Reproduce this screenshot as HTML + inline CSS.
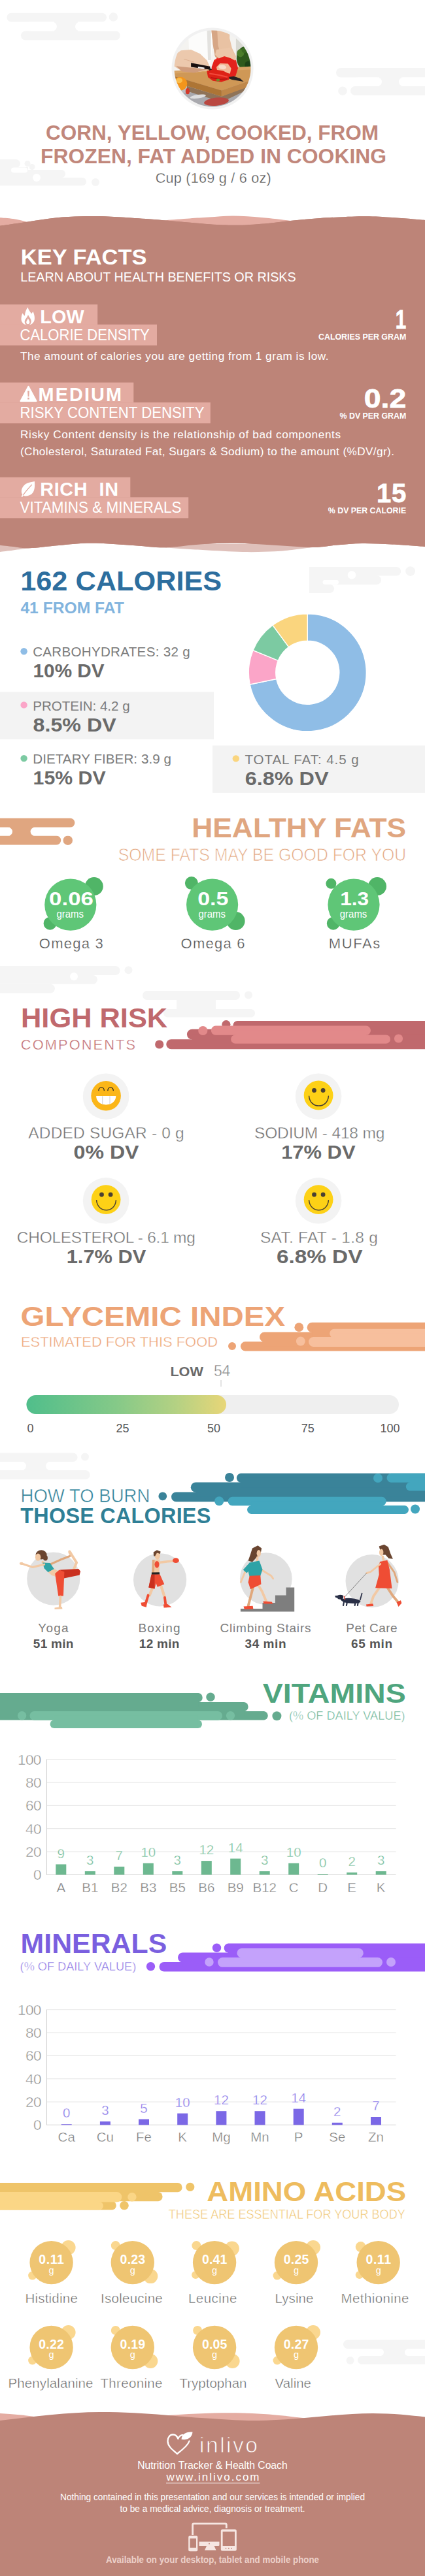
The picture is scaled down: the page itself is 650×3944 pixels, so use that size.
<!DOCTYPE html>
<html><head><meta charset="utf-8"><title>Corn, yellow, cooked, from frozen, fat added in cooking</title>
<style>
html,body{margin:0;padding:0;background:#fff;}
body{width:650px;height:3944px;overflow:hidden;}
svg{display:block;font-family:"Liberation Sans",sans-serif;}
text{font-family:"Liberation Sans",sans-serif;}
</style></head><body>
<svg width="650" height="3944" viewBox="0 0 650 3944">
<rect x="0" y="0" width="650" height="3944" fill="#ffffff"/>
<rect x="10.4" y="19.7" width="152.6" height="13.9" rx="7.0" fill="#f5f5f5"/>
<circle cx="173.4" cy="26.0" r="6.7" fill="#f5f5f5" />
<rect x="32.0" y="47.6" width="151.7" height="13.9" rx="6.9" fill="#f5f5f5"/>
<rect x="83.0" y="33.0" width="36.0" height="15.0" fill="#f5f5f5" />
<rect x="40.0" y="33.6" width="47.0" height="14.0" rx="7.0" fill="#ffffff"/>
<rect x="115.0" y="33.6" width="85.0" height="14.0" rx="7.0" fill="#ffffff"/>
<rect x="514.0" y="104.0" width="151.0" height="14.5" rx="7.2" fill="#f5f5f5"/>
<rect x="536.0" y="132.0" width="129.0" height="14.0" rx="7.0" fill="#f5f5f5"/>
<circle cx="524.0" cy="139.2" r="6.8" fill="#f5f5f5" />
<rect x="580.0" y="118.0" width="34.0" height="15.0" fill="#f5f5f5" />
<rect x="540.0" y="118.5" width="44.0" height="13.5" rx="6.8" fill="#ffffff"/>
<rect x="610.0" y="118.5" width="55.0" height="13.5" rx="6.8" fill="#ffffff"/>
<rect x="-10.0" y="244.0" width="41.0" height="13.0" rx="6.5" fill="#f5f5f5"/>
<circle cx="42.0" cy="250.5" r="4.5" fill="#f5f5f5" />
<circle cx="49.0" cy="255.5" r="4.5" fill="#f5f5f5" />
<rect x="-1.0" y="256.0" width="44.0" height="6.0" fill="#f5f5f5" />
<rect x="-10.0" y="260.0" width="110.0" height="12.3" rx="6.2" fill="#f5f5f5"/>
<rect x="-10.0" y="272.0" width="142.0" height="12.3" rx="6.2" fill="#f5f5f5"/>
<circle cx="146.0" cy="279.0" r="6.0" fill="#f5f5f5" />
<rect x="17.0" y="256.5" width="25.0" height="8.0" rx="4.0" fill="#ffffff"/>
<circle cx="56.0" cy="272.0" r="6.0" fill="#ffffff" />
<defs><clipPath id="pc"><circle cx="325" cy="105" r="58.5"/></clipPath></defs>
<circle cx="325.0" cy="105.0" r="62.5" fill="#f1f1f1" />
<g clip-path="url(#pc)"><defs><filter id="pb" x="-10%" y="-10%" width="120%" height="120%"><feGaussianBlur stdDeviation="0.75"/></filter></defs>
<g filter="url(#pb)">
<rect x="255" y="35" width="140" height="140" fill="#f4f3f0"/>
<polygon points="287.5,40.0 325.8,40.0 324.2,76.7 321.2,101.2 296.7,101.2 289.1,76.7" fill="#fcfcfb" />
<polygon points="316.6,46.1 322.7,46.1 322.7,92.0 318.1,92.0" fill="#e3e2df" />
<polygon points="360.9,58.4 391.5,58.4 391.5,110.4 360.9,110.4" fill="#d9d9d2" />
<ellipse cx="374.7" cy="88.9" rx="12.8" ry="17.7" fill="#2d5a1c"/>
<ellipse cx="367.7" cy="81.3" rx="5.5" ry="6.1" fill="#4c7d2c"/>
<ellipse cx="379.9" cy="99.6" rx="5.5" ry="6.1" fill="#1e4212"/>
<ellipse cx="373.8" cy="76.7" rx="4.3" ry="4.3" fill="#3b6b22"/>
<polygon points="260.0,116.5 391.5,110.4 391.5,171.5 260.0,171.5" fill="#bdbdc1" />
<polygon points="260.0,144.0 391.5,134.8 391.5,171.5 260.0,171.5" fill="#a9a9ae" />
<polygon points="286.0,131.8 338.9,147.7 382.4,128.7 382.4,135.4 338.9,156.2 286.0,139.4" fill="#8f7358" />
<ellipse cx="331.0" cy="155.6" rx="19.0" ry="6.1" fill="#b9473f" transform="rotate(-6 331.0 155.6)"/>
<ellipse cx="302.8" cy="147.7" rx="12.2" ry="2.8" fill="#dededf" transform="rotate(-8 302.8 147.7)"/>
<polygon points="261.5,108.5 391.5,101.2 391.5,120.1 338.9,138.5 261.5,115.2" fill="#d8a465" />
<polygon points="261.5,112.8 391.5,106.1 391.5,120.1 338.9,138.5 261.5,115.2" fill="#cf9857" />
<polygon points="261.5,115.2 338.9,138.5 338.9,147.7 261.5,124.4" fill="#ad7436" />
<polygon points="338.9,138.5 391.5,120.1 391.5,128.7 338.9,147.7" fill="#bf874a" />
<ellipse cx="275.9" cy="128.1" rx="10.4" ry="10.4" fill="#f3951a"/>
<ellipse cx="274.1" cy="123.2" rx="4.9" ry="4.0" fill="#f9bd4e"/>
<ellipse cx="286.9" cy="139.7" rx="3.1" ry="4.6" fill="#d4382a"/>
<polygon points="322.7,40.0 351.8,40.0 351.2,58.4 354.8,73.6 360.9,85.9 359.7,101.2 351.8,104.8 336.5,96.6 328.8,85.9 325.8,69.1" fill="#e9c2a3" />
<polygon points="322.7,40.0 331.9,40.0 333.4,69.1 338.0,85.9 342.0,97.5 336.5,96.6 328.8,85.9 325.8,69.1" fill="#d6a685" />
<polygon points="264.6,85.9 276.8,77.3 292.1,76.1 305.9,82.2 316.6,92.6 321.2,102.7 316.6,107.9 296.7,111.0 278.4,108.8 265.5,101.2" fill="#ecc9ad" />
<polygon points="269.2,101.2 290.6,103.6 318.1,106.1 296.7,111.6 278.4,109.4" fill="#cf9c7b" />
<polyline points="281.4,90.5 296.7,95.1" fill="none" stroke="#dcae8e" stroke-width="0.92" stroke-linecap="round" stroke-linejoin="round"/>
<polygon points="292.1,96.3 321.2,101.8 321.8,106.7 292.1,102.4" fill="#121010" />
<polygon points="320.0,104.2 367.1,120.1 372.6,125.0 354.8,122.0 320.0,109.1" fill="#262021" />
<polygon points="302.8,102.1 312.6,103.6 312.6,105.8 302.8,104.2" fill="#f6f6f6" />
<polygon points="323.6,102.7 327.3,92.6 337.1,85.9 351.8,85.9 360.9,92.6 364.0,104.2 360.3,116.5 351.2,117.7 327.9,111.0 324.2,108.5" fill="#e3241b" />
<polygon points="331.0,102.7 336.5,96.9 348.7,97.5 353.6,104.8 351.8,112.8 340.1,111.0 332.2,108.5" fill="#f1b896" />
<ellipse cx="340.1" cy="102.7" rx="6.1" ry="3.4" fill="#f8dcc8" transform="rotate(8 340.1 102.7)"/>
<polyline points="327.9,92.6 337.1,86.5 351.8,86.5 360.3,93.2" fill="none" stroke="#f0392c" stroke-width="1.53" stroke-linecap="round" stroke-linejoin="round"/>
<polygon points="331.0,76.1 351.8,73.0 359.7,85.3 359.1,92.6 352.4,88.9 343.2,85.9 334.6,89.6 329.1,83.4" fill="#ecc6a8" />
<polygon points="316.3,109.1 325.8,106.1 341.4,108.5 351.2,113.4 349.9,122.0 338.3,125.6 325.5,123.8 318.1,118.3" fill="#dd2019" />
<polyline points="321.2,112.8 333.4,114.6 347.2,117.7" fill="none" stroke="#f2483a" stroke-width="2.14" stroke-linecap="round" stroke-linejoin="round"/>
<polyline points="322.7,118.9 336.5,121.4 347.2,120.8" fill="none" stroke="#a8140f" stroke-width="1.22" stroke-linecap="round" stroke-linejoin="round"/>
<ellipse cx="333.4" cy="122.6" rx="2.8" ry="2.1" fill="#76892c"/>
</g></g>
<text x="70.0" y="214.2" font-size="30.8" font-weight="bold" fill="#c1877b" textLength="509.0" lengthAdjust="spacingAndGlyphs" >CORN, YELLOW, COOKED, FROM</text>
<text x="62.0" y="250.0" font-size="30.8" font-weight="bold" fill="#c1877b" textLength="529.0" lengthAdjust="spacingAndGlyphs" >FROZEN, FAT ADDED IN COOKING</text>
<text x="237.7" y="280.0" font-size="21.6" font-weight="normal" fill="#555555" stroke="#ffffff" stroke-width="0.35" style="paint-order:fill stroke" textLength="177.0" lengthAdjust="spacing" >Cup (169 g / 6 oz)</text>
<path d="M0.0,333.2 C3.3,333.5 12.8,333.9 20.0,335.0 C27.2,336.1 36.3,338.3 43.0,340.0 C49.7,341.7 57.2,344.2 60.0,345.0 L60,360 L0,360 Z" fill="#e4aca2"/>
<path d="M240.0,341.0 C242.0,340.4 243.7,338.6 252.0,337.5 C260.3,336.4 278.7,335.3 290.0,334.5 C301.3,333.7 308.8,333.2 320.0,332.6 C331.2,332.0 343.7,330.5 357.0,330.6 C370.3,330.7 385.5,331.8 400.0,333.0 C414.5,334.2 432.3,336.3 444.0,338.0 C455.7,339.7 465.7,342.2 470.0,343.0 L470,360 L240,360 Z" fill="#e4aca2"/>
<path d="M0.0,345.8 C7.2,344.8 28.8,341.6 43.0,339.5 C57.2,337.4 71.5,334.9 85.0,333.5 C98.5,332.1 111.5,331.7 124.0,331.3 C136.5,330.9 147.3,330.9 160.0,331.3 C172.7,331.7 185.0,332.6 200.0,333.6 C215.0,334.6 230.0,335.6 250.0,337.2 C270.0,338.8 300.8,342.0 320.0,343.3 C339.2,344.6 350.0,345.0 365.0,344.8 C380.0,344.6 396.8,343.1 410.0,342.0 C423.2,340.9 430.7,339.3 444.0,338.0 C457.3,336.7 471.7,335.1 490.0,334.0 C508.3,332.9 535.7,331.4 554.0,331.2 C572.3,331.0 584.0,332.0 600.0,333.0 C616.0,334.0 641.7,336.3 650.0,337.0 L650.0,837.0 C641.7,836.4 616.0,834.3 600.0,833.5 C584.0,832.7 568.2,831.8 554.0,832.0 C539.8,832.2 527.7,833.5 515.0,834.5 C502.3,835.5 493.8,838.0 478.0,838.0 C462.2,838.0 440.5,835.8 420.0,834.7 C399.5,833.6 375.0,831.7 355.0,831.6 C335.0,831.5 317.2,832.9 300.0,834.0 C282.8,835.1 268.7,838.2 252.0,838.3 C235.3,838.4 218.7,835.8 200.0,834.7 C181.3,833.6 158.3,831.6 140.0,831.6 C121.7,831.6 106.0,833.7 90.0,835.0 C74.0,836.3 55.7,839.0 44.0,839.3 C32.3,839.6 27.3,837.8 20.0,837.0 C12.7,836.2 3.3,835.1 0.0,834.7 Z" fill="#bd8478"/>
<path d="M0,833 L50,833 L50,839 L44.0,839.3 C40.0,839.8 27.3,841.5 20.0,842.5 C12.7,843.5 3.3,844.6 0.0,845.0 Z" fill="#dfc0ba"/>
<path d="M245,833 L485,833 L478.0,838.0 C473.3,838.6 459.7,840.5 450.0,841.5 C440.3,842.5 433.2,843.7 420.0,844.3 C406.8,844.9 389.3,845.4 371.0,845.0 C352.7,844.6 329.8,843.1 310.0,842.0 C290.2,840.9 261.7,838.9 252.0,838.3 Z" fill="#dfc0ba"/>
<path d="M0.0,345.8 C7.2,344.8 28.8,341.6 43.0,339.5 C57.2,337.4 71.5,334.9 85.0,333.5 C98.5,332.1 111.5,331.7 124.0,331.3 C136.5,330.9 147.3,330.9 160.0,331.3 C172.7,331.7 185.0,332.6 200.0,333.6 C215.0,334.6 230.0,335.6 250.0,337.2 C270.0,338.8 300.8,342.0 320.0,343.3 C339.2,344.6 350.0,345.0 365.0,344.8 C380.0,344.6 396.8,343.1 410.0,342.0 C423.2,340.9 430.7,339.3 444.0,338.0 C457.3,336.7 471.7,335.1 490.0,334.0 C508.3,332.9 535.7,331.4 554.0,331.2 C572.3,331.0 584.0,332.0 600.0,333.0 C616.0,334.0 641.7,336.3 650.0,337.0 L650.0,837.0 C641.7,836.4 616.0,834.3 600.0,833.5 C584.0,832.7 568.2,831.8 554.0,832.0 C539.8,832.2 527.7,833.5 515.0,834.5 C502.3,835.5 493.8,838.0 478.0,838.0 C462.2,838.0 440.5,835.8 420.0,834.7 C399.5,833.6 375.0,831.7 355.0,831.6 C335.0,831.5 317.2,832.9 300.0,834.0 C282.8,835.1 268.7,838.2 252.0,838.3 C235.3,838.4 218.7,835.8 200.0,834.7 C181.3,833.6 158.3,831.6 140.0,831.6 C121.7,831.6 106.0,833.7 90.0,835.0 C74.0,836.3 55.7,839.0 44.0,839.3 C32.3,839.6 27.3,837.8 20.0,837.0 C12.7,836.2 3.3,835.1 0.0,834.7 Z" fill="#bd8478"/>
<text x="31.8" y="405.3" font-size="33" font-weight="bold" fill="#ffffff" textLength="192.7" lengthAdjust="spacingAndGlyphs" >KEY FACTS</text>
<text x="31.2" y="430.6" font-size="19.8" font-weight="normal" fill="#ffffff" textLength="421.5" lengthAdjust="spacing" >LEARN ABOUT HEALTH BENEFITS OR RISKS</text>
<rect x="0.0" y="466.2" width="149.2" height="31.0" fill="#e3aba1" />
<rect x="0.0" y="496.8" width="240.0" height="32.0" fill="#e3aba1" />
<text x="61.2" y="494.6" font-size="28.8" font-weight="bold" fill="#ffffff" textLength="67.5" lengthAdjust="spacing" >LOW</text>
<text x="30.5" y="520.8" font-size="23.4" font-weight="normal" fill="#ffffff" textLength="198.3" lengthAdjust="spacingAndGlyphs" >CALORIE DENSITY</text>
<rect x="0.0" y="585.6" width="204.3" height="31.0" fill="#e3aba1" />
<rect x="0.0" y="616.2" width="321.8" height="32.0" fill="#e3aba1" />
<text x="58.6" y="614.0" font-size="28.8" font-weight="bold" fill="#ffffff" textLength="127.4" lengthAdjust="spacing" >MEDIUM</text>
<text x="30.5" y="640.2" font-size="23.4" font-weight="normal" fill="#ffffff" textLength="282.0" lengthAdjust="spacingAndGlyphs" >RISKY CONTENT DENSITY</text>
<rect x="0.0" y="730.7" width="199.3" height="31.0" fill="#e3aba1" />
<rect x="0.0" y="761.3" width="288.2" height="32.0" fill="#e3aba1" />
<text x="61.2" y="759.1" font-size="28.8" font-weight="bold" fill="#ffffff" textLength="119.8" lengthAdjust="spacing" >RICH  IN</text>
<text x="30.5" y="785.3" font-size="23.4" font-weight="normal" fill="#ffffff" textLength="247.0" lengthAdjust="spacingAndGlyphs" >VITAMINS &amp; MINERALS</text>
<g transform="translate(32.5,470.5)"><path d="M9.9,0 C11,4 14,7 15.5,10 C16.5,8.5 17.5,7.5 18.1,6.6 C19.5,10 20.8,14 20.4,18 C20,23.5 15.5,27.3 10,27.3 C4.5,27.3 0,23.5 0,18 C0,14 1,11 2,8.9 C3,10.5 4,12 5.5,13 C5.5,8 7.5,3.5 9.9,0 Z" fill="#fff"/><path d="M10.5,11.5 C12,15 15.2,17.5 15.2,21.5 C15.2,24.8 12.8,27.6 10,27.6 C7.2,27.6 5.2,25 5.2,22 C5.2,18.5 9,16 10.5,11.5 Z" fill="#e3aba1"/><path d="M10.3,16.8 C11,19 12.8,20.5 12.8,22.8 C12.8,24.6 11.6,25.8 10.2,25.8 C8.9,25.8 7.7,24.6 7.7,23 C7.7,20.8 9.8,19.5 10.3,16.8 Z" fill="#fff"/></g>
<path d="M43.5,592 L55.3,614 L31.7,614 Z" fill="#fff" stroke="#fff" stroke-width="2.4" stroke-linejoin="round"/>
<path d="M42.1,598.5 H44.9 L44.4,607.3 H42.6 Z M42.2,608.8 H44.8 V611.6 H42.2 Z" fill="#e3aba1"/>
<g transform="translate(32.6,737) scale(1.12)"><path d="M18.1,0 C18.6,6 18.5,11 15.8,15.5 C13,19.5 7,21 2.6,19.4 L1.2,21.6 L0,20.6 L1.5,18 C-1,14 0,8 5.9,3.5 C9.5,1.2 14,1.2 18.1,0 Z" fill="#fff"/><path d="M2.2,19 C6,14 10,9 14.5,4.5" stroke="#e3aba1" stroke-width="1.1" fill="none"/></g>
<text x="31.0" y="551.2" font-size="17.2" font-weight="normal" fill="#ffffff" textLength="471.5" lengthAdjust="spacing" >The amount of calories you are getting from 1 gram is low.</text>
<text x="31.0" y="671.0" font-size="17.2" font-weight="normal" fill="#ffffff" textLength="490.0" lengthAdjust="spacing" >Risky Content density is the relationship of bad components</text>
<text x="31.0" y="697.0" font-size="17.2" font-weight="normal" fill="#ffffff" textLength="572.0" lengthAdjust="spacing" >(Cholesterol, Saturated Fat, Sugars &amp; Sodium) to the amount (%DV/gr).</text>
<text x="604.7" y="503.1" font-size="40" font-weight="bold" fill="#ffffff" stroke="#ffffff" stroke-width="0.8" style="paint-order:fill stroke" textLength="16.5" lengthAdjust="spacingAndGlyphs" >1</text>
<text x="487.0" y="520.2" font-size="13.5" font-weight="bold" fill="#ffffff" textLength="134.2" lengthAdjust="spacingAndGlyphs" >CALORIES PER GRAM</text>
<text x="556.8" y="624.0" font-size="40" font-weight="bold" fill="#ffffff" stroke="#ffffff" stroke-width="0.8" style="paint-order:fill stroke" textLength="64.4" lengthAdjust="spacingAndGlyphs" >0.2</text>
<text x="519.6" y="641.2" font-size="13.5" font-weight="bold" fill="#ffffff" textLength="101.6" lengthAdjust="spacingAndGlyphs" >% DV PER GRAM</text>
<text x="575.9" y="769.0" font-size="40" font-weight="bold" fill="#ffffff" stroke="#ffffff" stroke-width="0.8" style="paint-order:fill stroke" textLength="45.3" lengthAdjust="spacing" >15</text>
<text x="501.8" y="786.2" font-size="13.5" font-weight="bold" fill="#ffffff" textLength="119.4" lengthAdjust="spacingAndGlyphs" >% DV PER CALORIE</text>
<path d="M473.0,868.0H607.2A6.8,6.8 0 0 1 607.2,881.5H473.0Z" fill="#f5f5f5"/>
<circle cx="627.6" cy="874.6" r="7.4" fill="#f5f5f5" />
<path d="M473.0,881.0H576.0A7.0,7.0 0 0 1 576.0,895.0H473.0Z" fill="#f5f5f5"/>
<path d="M473.0,894.7H504.4A6.6,6.6 0 0 1 504.4,908.0H473.0Z" fill="#f5f5f5"/>
<circle cx="538.0" cy="880.4" r="6.3" fill="#ffffff" />
<circle cx="526.0" cy="903.6" r="6.5" fill="#ffffff" />
<rect x="493.5" y="888.0" width="24.5" height="6.7" rx="3.4" fill="#ffffff"/>
<text x="31.2" y="904.3" font-size="42.2" font-weight="bold" fill="#2d6e9e" textLength="308.0" lengthAdjust="spacingAndGlyphs" >162 CALORIES</text>
<text x="31.4" y="939.2" font-size="23.3" font-weight="bold" fill="#82b4de" textLength="158.4" lengthAdjust="spacingAndGlyphs" >41 FROM FAT</text>
<rect x="0.0" y="1059.3" width="327.0" height="72.5" fill="#f3f3f3" />
<rect x="325.0" y="1141.4" width="325.0" height="72.5" fill="#f3f3f3" />
<circle cx="36.6" cy="997.2" r="5.2" fill="#8fbde6" />
<text x="50.2" y="1005.4" font-size="20.6" font-weight="normal" fill="#7c7c7c" textLength="240.4" lengthAdjust="spacing" >CARBOHYDRATES: 32 g</text>
<text x="50.6" y="1037.3" font-size="30" font-weight="bold" fill="#6a6a6a" textLength="109.0" lengthAdjust="spacingAndGlyphs" >10% DV</text>
<circle cx="36.6" cy="1079.4" r="5.2" fill="#fba5c8" />
<text x="50.2" y="1087.6" font-size="20.6" font-weight="normal" fill="#7c7c7c" textLength="148.4" lengthAdjust="spacing" >PROTEIN: 4.2 g</text>
<text x="50.6" y="1119.5" font-size="30" font-weight="bold" fill="#6a6a6a" textLength="127.0" lengthAdjust="spacingAndGlyphs" >8.5% DV</text>
<circle cx="36.6" cy="1161.1" r="5.2" fill="#7ccaa2" />
<text x="50.2" y="1169.3" font-size="20.6" font-weight="normal" fill="#7c7c7c" textLength="211.8" lengthAdjust="spacing" >DIETARY FIBER: 3.9 g</text>
<text x="50.6" y="1201.2" font-size="30" font-weight="bold" fill="#6a6a6a" textLength="111.0" lengthAdjust="spacingAndGlyphs" >15% DV</text>
<circle cx="360.8" cy="1161.4" r="5.2" fill="#fad57e" />
<text x="374.4" y="1169.6" font-size="20.6" font-weight="normal" fill="#7c7c7c" textLength="174.2" lengthAdjust="spacing" >TOTAL FAT: 4.5 g</text>
<text x="374.8" y="1201.5" font-size="30" font-weight="bold" fill="#6a6a6a" textLength="127.8" lengthAdjust="spacingAndGlyphs" >6.8% DV</text>
<path d="M470.30,939.70 A90,90 0 1 1 382.17,1047.96 L422.81,1039.54 A48.5,48.5 0 1 0 470.30,981.20 Z" fill="#8fbde6" stroke="#fff" stroke-width="1.4"/>
<path d="M382.17,1047.96 A90,90 0 0 1 386.97,995.70 L425.39,1011.38 A48.5,48.5 0 0 0 422.81,1039.54 Z" fill="#fba5c8" stroke="#fff" stroke-width="1.4"/>
<path d="M386.97,995.70 A90,90 0 0 1 416.99,957.19 L441.57,990.62 A48.5,48.5 0 0 0 425.39,1011.38 Z" fill="#7ccaa2" stroke="#fff" stroke-width="1.4"/>
<path d="M416.99,957.19 A90,90 0 0 1 470.30,939.70 L470.30,981.20 A48.5,48.5 0 0 0 441.57,990.62 Z" fill="#fad57e" stroke="#fff" stroke-width="1.4"/>
<rect x="-10.0" y="1252.8" width="124.4" height="14.0" rx="7.0" fill="#e0a680"/>
<rect x="-10.0" y="1279.5" width="103.2" height="14.0" rx="7.0" fill="#e0a680"/>
<circle cx="103.8" cy="1286.7" r="7.2" fill="#e0a680" />
<rect x="15.0" y="1266.0" width="36.0" height="14.0" fill="#e0a680" />
<rect x="-10.0" y="1266.8" width="29.0" height="12.7" rx="6.4" fill="#ffffff"/>
<rect x="46.6" y="1266.8" width="83.4" height="12.7" rx="6.4" fill="#ffffff"/>
<text x="293.2" y="1281.7" font-size="42.7" font-weight="bold" fill="#e0a680" textLength="328.0" lengthAdjust="spacingAndGlyphs" >HEALTHY FATS</text>
<text x="180.8" y="1317.8" font-size="27" font-weight="normal" fill="#e3a882" stroke="#ffffff" stroke-width="0.75" style="paint-order:fill stroke" textLength="440.4" lengthAdjust="spacingAndGlyphs" >SOME FATS MAY BE GOOD FOR YOU</text>
<circle cx="143.8" cy="1357.1" r="14.0" fill="#50b567" />
<circle cx="76.5" cy="1413.8" r="9.9" fill="#50b567" />
<circle cx="107.8" cy="1385.1" r="39.6" fill="#5fc677" />
<text x="75.1" y="1385.9" font-size="30" font-weight="bold" fill="#ffffff" textLength="67.8" lengthAdjust="spacingAndGlyphs" >0.06</text>
<text x="86.5" y="1404.7" font-size="16.5" font-weight="normal" fill="#ffffff" textLength="41.5" lengthAdjust="spacingAndGlyphs" >grams</text>
<text x="59.8" y="1451.9" font-size="22" font-weight="normal" fill="#555555" stroke="#ffffff" stroke-width="0.3" style="paint-order:fill stroke" textLength="98.0" lengthAdjust="spacing" >Omega 3</text>
<circle cx="292.9" cy="1352.1" r="10.0" fill="#50b567" />
<circle cx="360.6" cy="1410.1" r="14.0" fill="#50b567" />
<circle cx="324.6" cy="1385.1" r="39.6" fill="#5fc677" />
<text x="302.2" y="1385.9" font-size="30" font-weight="bold" fill="#ffffff" textLength="47.3" lengthAdjust="spacingAndGlyphs" >0.5</text>
<text x="303.4" y="1404.7" font-size="16.5" font-weight="normal" fill="#ffffff" textLength="41.5" lengthAdjust="spacingAndGlyphs" >grams</text>
<text x="276.6" y="1451.9" font-size="22" font-weight="normal" fill="#555555" stroke="#ffffff" stroke-width="0.3" style="paint-order:fill stroke" textLength="98.0" lengthAdjust="spacing" >Omega 6</text>
<circle cx="506.4" cy="1352.8" r="8.0" fill="#50b567" />
<circle cx="577.0" cy="1357.1" r="14.0" fill="#50b567" />
<circle cx="509.7" cy="1413.8" r="9.9" fill="#50b567" />
<circle cx="541.0" cy="1385.1" r="39.6" fill="#5fc677" />
<text x="520.2" y="1385.9" font-size="30" font-weight="bold" fill="#ffffff" textLength="44.0" lengthAdjust="spacingAndGlyphs" >1.3</text>
<text x="519.8" y="1404.7" font-size="16.5" font-weight="normal" fill="#ffffff" textLength="41.5" lengthAdjust="spacingAndGlyphs" >grams</text>
<text x="502.8" y="1451.9" font-size="22" font-weight="normal" fill="#555555" stroke="#ffffff" stroke-width="0.3" style="paint-order:fill stroke" textLength="78.5" lengthAdjust="spacing" >MUFAs</text>
<rect x="-10.0" y="1479.0" width="193.5" height="14.0" rx="7.0" fill="#f5f5f5"/>
<circle cx="196.5" cy="1485.3" r="6.0" fill="#f5f5f5" />
<rect x="-10.0" y="1493.0" width="159.0" height="13.7" rx="6.9" fill="#f5f5f5"/>
<rect x="-10.0" y="1506.7" width="94.0" height="13.8" rx="6.9" fill="#f5f5f5"/>
<circle cx="113.0" cy="1495.0" r="6.0" fill="#ffffff" />
<circle cx="93.0" cy="1514.0" r="6.0" fill="#ffffff" />
<rect x="218.0" y="1517.0" width="149.0" height="14.0" rx="7.0" fill="#f5f5f5"/>
<circle cx="380.0" cy="1523.6" r="6.0" fill="#f5f5f5" />
<rect x="250.0" y="1545.0" width="140.0" height="12.6" rx="6.3" fill="#f5f5f5"/>
<rect x="270.0" y="1530.0" width="60.0" height="16.0" fill="#f5f5f5" />
<text x="32.0" y="1572.5" font-size="42.7" font-weight="bold" fill="#c0696d" textLength="224.2" lengthAdjust="spacingAndGlyphs" >HIGH RISK</text>
<text x="31.8" y="1606.8" font-size="21.8" font-weight="normal" fill="#c0696d" stroke="#ffffff" stroke-width="0.4" style="paint-order:fill stroke" textLength="175.2" lengthAdjust="spacing" >COMPONENTS</text>
<circle cx="243.7" cy="1599.0" r="6.6" fill="#c0696d" />
<circle cx="345.9" cy="1568.6" r="6.6" fill="#c0696d" />
<path d="M363.2,1563.0H660.0V1576.6H363.2A6.8,6.8 0 0 1 363.2,1563.0Z" fill="#c0696d"/>
<path d="M293.9,1575.7H660.0V1591.6H293.9A7.9,7.9 0 0 1 293.9,1575.7Z" fill="#c0696d"/>
<path d="M261.8,1591.2H660.0V1606.3H261.8A7.5,7.5 0 0 1 261.8,1591.2Z" fill="#c0696d"/>
<rect x="363.2" y="1569.8" width="296.8" height="13.9" fill="#c0696d" />
<rect x="293.9" y="1583.7" width="366.1" height="15.1" fill="#c0696d" />
<circle cx="310.3" cy="1578.0" r="7.1" fill="#e2898a" />
<rect x="322.8" y="1570.6" width="244.2" height="14.2" rx="7.1" fill="#e2898a"/>
<rect x="353.1" y="1584.4" width="243.9" height="13.4" rx="6.7" fill="#e2898a"/>
<rect x="359.8" y="1577.7" width="200.1" height="13.4" fill="#e2898a" />
<circle cx="609.5" cy="1590.0" r="6.6" fill="#e2898a" />
<circle cx="162.1" cy="1678.7" r="35.3" fill="#f3f3f3" />
<circle cx="162.1" cy="1677.8" r="22.8" fill="#fbb618" />
<path d="M150.9,1669.5 a4.2,4.6 0 0 1 8.4,0" fill="none" stroke="#3a3326" stroke-width="1.4" stroke-linecap="round"/>
<path d="M164.9,1669.5 a4.2,4.6 0 0 1 8.4,0" fill="none" stroke="#3a3326" stroke-width="1.4" stroke-linecap="round"/>
<path d="M147.1,1678.1 H177.4 C177.1,1686.8 170.1,1691.4 162.1,1691.4 C154.1,1691.4 147.1,1686.8 147.1,1678.1 Z" fill="#fff"/>
<path d="M156.7,1678.3 V1690.8" stroke="#cfcfcf" stroke-width="1"/>
<path d="M168.0,1678.3 V1690.8" stroke="#cfcfcf" stroke-width="1"/>
<text x="43.3" y="1743.3" font-size="24.5" font-weight="normal" fill="#747474" stroke="#ffffff" stroke-width="0.4" style="paint-order:fill stroke" textLength="238.4" lengthAdjust="spacing" >ADDED SUGAR - 0 g</text>
<text x="112.6" y="1774.1" font-size="29.2" font-weight="bold" fill="#6a6a6a" textLength="99.9" lengthAdjust="spacingAndGlyphs" >0% DV</text>
<circle cx="487.1" cy="1678.7" r="35.3" fill="#f3f3f3" />
<circle cx="487.1" cy="1677.0" r="22.4" fill="#fdd116" />
<circle cx="480.5" cy="1669.4" r="3.4" fill="#4a4032" />
<circle cx="494.1" cy="1669.4" r="3.4" fill="#4a4032" />
<path d="M472.6,1678.2 C474.1,1698.0 501.1,1698.0 502.4,1678.2" fill="none" stroke="#4a4032" stroke-width="1.5" stroke-linecap="round"/>
<text x="389.0" y="1743.3" font-size="24.5" font-weight="normal" fill="#747474" stroke="#ffffff" stroke-width="0.4" style="paint-order:fill stroke" textLength="199.4" lengthAdjust="spacing" >SODIUM - 418 mg</text>
<text x="430.2" y="1774.1" font-size="29.2" font-weight="bold" fill="#6a6a6a" textLength="113.3" lengthAdjust="spacingAndGlyphs" >17% DV</text>
<circle cx="162.1" cy="1838.3" r="35.3" fill="#f3f3f3" />
<circle cx="162.1" cy="1836.6" r="22.4" fill="#fdd116" />
<circle cx="155.5" cy="1829.0" r="3.4" fill="#4a4032" />
<circle cx="169.1" cy="1829.0" r="3.4" fill="#4a4032" />
<path d="M147.6,1837.8 C149.1,1857.6 176.1,1857.6 177.4,1837.8" fill="none" stroke="#4a4032" stroke-width="1.5" stroke-linecap="round"/>
<text x="25.8" y="1902.9" font-size="24.5" font-weight="normal" fill="#747474" stroke="#ffffff" stroke-width="0.4" style="paint-order:fill stroke" textLength="273.0" lengthAdjust="spacing" >CHOLESTEROL - 6.1 mg</text>
<text x="101.7" y="1933.7" font-size="29.2" font-weight="bold" fill="#6a6a6a" textLength="121.6" lengthAdjust="spacingAndGlyphs" >1.7% DV</text>
<circle cx="487.1" cy="1838.3" r="35.3" fill="#f3f3f3" />
<circle cx="487.1" cy="1836.6" r="22.4" fill="#fdd116" />
<circle cx="480.5" cy="1829.0" r="3.4" fill="#4a4032" />
<circle cx="494.1" cy="1829.0" r="3.4" fill="#4a4032" />
<path d="M472.6,1837.8 C474.1,1857.6 501.1,1857.6 502.4,1837.8" fill="none" stroke="#4a4032" stroke-width="1.5" stroke-linecap="round"/>
<text x="398.0" y="1902.9" font-size="24.5" font-weight="normal" fill="#747474" stroke="#ffffff" stroke-width="0.4" style="paint-order:fill stroke" textLength="179.9" lengthAdjust="spacing" >SAT. FAT - 1.8 g</text>
<text x="422.9" y="1933.7" font-size="29.2" font-weight="bold" fill="#6a6a6a" textLength="131.5" lengthAdjust="spacingAndGlyphs" >6.8% DV</text>
<defs><linearGradient id="gg" x1="0" y1="0" x2="1" y2="0"><stop offset="0" stop-color="#50be8b"/><stop offset="0.45" stop-color="#85c988"/><stop offset="0.75" stop-color="#b4d183"/><stop offset="1" stop-color="#e8d678"/></linearGradient></defs>
<text x="31.6" y="2030.2" font-size="42.9" font-weight="bold" fill="#eda476" textLength="404.5" lengthAdjust="spacingAndGlyphs" >GLYCEMIC INDEX</text>
<text x="32.0" y="2062.0" font-size="22.6" font-weight="normal" fill="#eda67a" stroke="#ffffff" stroke-width="0.4" style="paint-order:fill stroke" textLength="301.0" lengthAdjust="spacingAndGlyphs" >ESTIMATED FOR THIS FOOD</text>
<circle cx="457.3" cy="2032.2" r="6.9" fill="#eda476" />
<circle cx="355.0" cy="2061.0" r="6.0" fill="#eda476" />
<path d="M477.2,2024.8H660.0V2040.0H477.2A7.6,7.6 0 0 1 477.2,2024.8Z" fill="#eda476"/>
<path d="M404.5,2039.5H660.0V2054.5H404.5A7.5,7.5 0 0 1 404.5,2039.5Z" fill="#eda476"/>
<path d="M375.3,2054.0H660.0V2068.6H375.3A7.3,7.3 0 0 1 375.3,2054.0Z" fill="#eda476"/>
<rect x="477.2" y="2032.4" width="182.8" height="14.6" fill="#eda476" />
<rect x="404.5" y="2047.0" width="255.5" height="14.3" fill="#eda476" />
<circle cx="459.8" cy="2053.5" r="6.9" fill="#f7bf9d" />
<path d="M511.1,2034.7H660.0V2048.5H511.1A6.9,6.9 0 0 1 511.1,2034.7Z" fill="#f7bf9d"/>
<path d="M479.5,2047.0H660.0V2062.0H479.5A7.5,7.5 0 0 1 479.5,2047.0Z" fill="#f7bf9d"/>
<rect x="511.1" y="2041.6" width="148.9" height="12.9" fill="#f7bf9d" />
<text x="260.4" y="2107.0" font-size="20.5" font-weight="bold" fill="#6a6a6a" textLength="50.5" lengthAdjust="spacingAndGlyphs" >LOW</text>
<text x="327.0" y="2107.4" font-size="23" font-weight="normal" fill="#858585" stroke="#ffffff" stroke-width="0.4" style="paint-order:fill stroke" textLength="25.4" lengthAdjust="spacing" >54</text>
<path d="M338,2113 V2123" stroke="#c8c8c8" stroke-width="1"/>
<rect x="40.5" y="2136.0" width="569.5" height="29.0" rx="14.5" fill="#efefef"/>
<rect x="40.5" y="2136" width="305.5" height="29" rx="14.5" fill="url(#gg)"/>
<text x="46.5" y="2193.0" font-size="18" font-weight="normal" fill="#555555" text-anchor="middle" >0</text>
<text x="187.5" y="2193.0" font-size="18" font-weight="normal" fill="#555555" text-anchor="middle" >25</text>
<text x="327.0" y="2193.0" font-size="18" font-weight="normal" fill="#555555" text-anchor="middle" >50</text>
<text x="470.7" y="2193.0" font-size="18" font-weight="normal" fill="#555555" text-anchor="middle" >75</text>
<text x="596.5" y="2193.0" font-size="18" font-weight="normal" fill="#555555" text-anchor="middle" >100</text>
<rect x="-10.0" y="2224.4" width="128.5" height="13.6" rx="6.8" fill="#f5f5f5"/>
<circle cx="130.0" cy="2230.5" r="6.0" fill="#f5f5f5" />
<rect x="-10.0" y="2251.0" width="147.6" height="14.0" rx="7.0" fill="#f5f5f5"/>
<rect x="36.0" y="2237.0" width="38.0" height="15.0" fill="#f5f5f5" />
<rect x="-10.0" y="2238.0" width="50.0" height="13.0" rx="6.5" fill="#ffffff"/>
<rect x="70.0" y="2238.0" width="80.0" height="13.0" rx="6.5" fill="#ffffff"/>
<text x="31.6" y="2300.3" font-size="28.8" font-weight="normal" fill="#2f8198" stroke="#ffffff" stroke-width="0.55" style="paint-order:fill stroke" textLength="197.7" lengthAdjust="spacingAndGlyphs" >HOW TO BURN</text>
<text x="31.3" y="2331.9" font-size="32.4" font-weight="bold" fill="#2f7f96" textLength="291.0" lengthAdjust="spacing" >THOSE CALORIES</text>
<circle cx="248.8" cy="2290.8" r="6.4" fill="#3a8399" />
<circle cx="351.0" cy="2262.0" r="7.0" fill="#3a8399" />
<path d="M368.2,2255.7H660.0V2270.0H368.2A7.2,7.2 0 0 1 368.2,2255.7Z" fill="#3a8399"/>
<path d="M299.4,2269.6H660.0V2284.8H299.4A7.6,7.6 0 0 1 299.4,2269.6Z" fill="#3a8399"/>
<path d="M269.4,2284.4H660.0V2299.2H269.4A7.4,7.4 0 0 1 269.4,2284.4Z" fill="#3a8399"/>
<rect x="368.2" y="2262.8" width="291.8" height="14.3" fill="#3a8399" />
<rect x="299.4" y="2277.2" width="360.6" height="14.6" fill="#3a8399" />
<circle cx="335.2" cy="2298.2" r="7.0" fill="#43a6be" />
<rect x="348.6" y="2291.8" width="242.1" height="13.5" rx="6.8" fill="#43a6be"/>
<rect x="378.0" y="2305.0" width="247.0" height="13.0" rx="6.5" fill="#43a6be"/>
<rect x="384.5" y="2298.6" width="199.5" height="12.9" fill="#43a6be" />
<circle cx="635.0" cy="2310.5" r="7.0" fill="#43a6be" />
<circle cx="578.0" cy="2263.0" r="7.0" fill="#43a6be" />
<path d="M597.8,2255.7H660.0V2269.8H597.8A7.1,7.1 0 0 1 597.8,2255.7Z" fill="#43a6be"/>
<path d="M626.5,2269.6H660.0V2282.5H626.5A6.5,6.5 0 0 1 626.5,2269.6Z" fill="#43a6be"/>
<rect x="626.5" y="2262.8" width="33.5" height="13.3" fill="#43a6be" />
<g><ellipse cx="81.8" cy="2417.1" rx="40.6" ry="40.6" fill="#e1e1e1"/>
<polyline points="76.5,2395.2 92.4,2388.1 106.8,2382.5" fill="none" stroke="#e0a87c" stroke-width="3.18" stroke-linecap="round" stroke-linejoin="round"/>
<polyline points="112.5,2403.6 117.1,2392.4 108.2,2378.2" fill="none" stroke="#f2c9a4" stroke-width="3.88" stroke-linecap="round" stroke-linejoin="round"/>
<ellipse cx="107.2" cy="2377.5" rx="2.5" ry="4.2" fill="#f2c9a4" transform="rotate(-20 107.2 2377.5)"/>
<polygon points="92.0,2403.6 120.2,2401.9 123.1,2405.8 121.6,2411.4 95.5,2417.1" fill="#c9301f" />
<ellipse cx="63.1" cy="2380.4" rx="8.5" ry="7.1" fill="#6a4530"/>
<ellipse cx="69.4" cy="2385.3" rx="3.5" ry="4.2" fill="#6a4530"/>
<ellipse cx="58.1" cy="2384.2" rx="4.2" ry="5.6" fill="#f2c9a4"/>
<polyline points="65.2,2391.6 69.4,2395.2" fill="none" stroke="#f2c9a4" stroke-width="3.53" stroke-linecap="round" stroke-linejoin="round"/>
<polygon points="65.2,2392.4 76.5,2393.1 82.8,2402.2 73.6,2407.2 67.6,2401.2" fill="#2ea3a6" />
<polygon points="73.6,2407.2 82.8,2402.2 90.6,2405.8 86.4,2414.2 79.3,2412.1" fill="#f2c9a4" />
<polyline points="67.6,2395.2 50.0,2399.4 33.4,2394.1" fill="none" stroke="#f2c9a4" stroke-width="3.18" stroke-linecap="round" stroke-linejoin="round"/>
<ellipse cx="32.7" cy="2393.8" rx="2.8" ry="2.1" fill="#f2c9a4"/>
<polygon points="84.2,2409.3 90.6,2403.6 98.4,2406.5 96.9,2443.5 89.2,2443.5" fill="#ef4d34" />
<polyline points="92.4,2444.6 91.6,2460.1" fill="none" stroke="#f2c9a4" stroke-width="3.53" stroke-linecap="round" stroke-linejoin="round"/>
<polygon points="83.5,2461.5 94.8,2460.1 95.5,2463.6 83.5,2464.0" fill="#f2c9a4" />
<ellipse cx="244.6" cy="2418.8" rx="40.6" ry="40.6" fill="#e1e1e1"/>
<polyline points="232.9,2431.9 228.7,2442.5" fill="none" stroke="#f2c9a4" stroke-width="4.24" stroke-linecap="round" stroke-linejoin="round"/>
<polyline points="226.6,2442.5 223.1,2454.1" fill="none" stroke="#ef4d34" stroke-width="3.88" stroke-linecap="round" stroke-linejoin="round"/>
<polygon points="215.3,2453.8 225.2,2452.4 223.8,2460.8 216.7,2458.7" fill="#ef4d34" />
<polyline points="246.4,2428.4 252.0,2446.0" fill="none" stroke="#f2c9a4" stroke-width="4.24" stroke-linecap="round" stroke-linejoin="round"/>
<polyline points="252.0,2446.0 253.4,2457.6" fill="none" stroke="#ef4d34" stroke-width="3.88" stroke-linecap="round" stroke-linejoin="round"/>
<polygon points="249.9,2456.6 256.2,2455.9 262.6,2460.8 250.6,2461.5" fill="#ef4d34" />
<polygon points="232.9,2388.1 244.2,2387.4 243.5,2409.3 232.2,2410.0" fill="#f2c9a4" />
<polygon points="232.9,2388.1 236.5,2388.1 235.8,2409.3 232.2,2410.0" fill="#e0a87c" />
<ellipse cx="240.7" cy="2381.8" rx="4.2" ry="6.0" fill="#f2c9a4"/>
<polygon points="234.7,2376.5 240.0,2373.3 245.6,2375.4 244.9,2378.9 240.0,2377.5 237.2,2382.5 235.1,2382.5" fill="#6a4530" />
<polyline points="242.1,2392.4 264.7,2389.9" fill="none" stroke="#f2c9a4" stroke-width="3.53" stroke-linecap="round" stroke-linejoin="round"/>
<ellipse cx="268.9" cy="2389.2" rx="4.9" ry="3.9" fill="#ef4d34"/>
<ellipse cx="240.0" cy="2395.2" rx="3.5" ry="5.3" fill="#ef4d34"/>
<polygon points="231.9,2407.5 243.9,2407.2 244.2,2410.7 231.9,2411.1" fill="#222" />
<polygon points="231.5,2410.7 244.6,2410.4 251.3,2425.5 240.7,2429.8 238.6,2424.1 236.5,2432.6 227.3,2430.5" fill="#ef4d34" />
<polygon points="231.5,2410.7 236.5,2410.7 236.5,2432.6 227.3,2430.5" fill="#c9301f" />
<ellipse cx="406.8" cy="2417.1" rx="39.9" ry="39.9" fill="#e1e1e1"/>
<polygon points="367.9,2462.9 401.5,2462.9 401.5,2454.1 420.9,2454.1 420.9,2442.5 437.5,2442.5 437.5,2430.5 450.2,2430.5 450.2,2467.5 367.9,2467.5" fill="#7e7e7e" />
<polygon points="385.9,2370.5 394.4,2366.2 400.1,2370.5 398.6,2378.9 392.3,2384.6 385.9,2391.6 379.6,2389.5 383.1,2379.6" fill="#6a4530" />
<ellipse cx="395.8" cy="2378.2" rx="3.2" ry="5.3" fill="#f2c9a4"/>
<polyline points="393.7,2384.6 393.0,2390.6" fill="none" stroke="#f2c9a4" stroke-width="3.53" stroke-linecap="round" stroke-linejoin="round"/>
<polyline points="386.6,2431.9 379.6,2458.7" fill="none" stroke="#e0a87c" stroke-width="3.88" stroke-linecap="round" stroke-linejoin="round"/>
<polygon points="372.5,2459.4 386.6,2458.7 387.4,2463.6 373.9,2464.0" fill="#ef4d34" />
<polyline points="393.7,2424.8 400.8,2436.5 407.1,2451.6" fill="none" stroke="#f2c9a4" stroke-width="3.88" stroke-linecap="round" stroke-linejoin="round"/>
<polygon points="402.5,2451.6 415.6,2452.4 417.7,2455.5 403.2,2455.5" fill="#ef4d34" />
<polyline points="376.1,2403.6 368.3,2422.4" fill="none" stroke="#f2c9a4" stroke-width="2.82" stroke-linecap="round" stroke-linejoin="round"/>
<polyline points="397.9,2402.2 414.9,2412.8 417.7,2417.1" fill="none" stroke="#f2c9a4" stroke-width="2.82" stroke-linecap="round" stroke-linejoin="round"/>
<polygon points="381.7,2392.4 396.5,2389.5 401.5,2402.9 397.9,2413.5 381.7,2414.2 378.9,2402.9" fill="#2ea3a6" />
<polygon points="381.7,2392.4 387.4,2395.9 377.5,2408.6 371.8,2403.6" fill="#2ea3a6" />
<polygon points="381.7,2412.8 398.3,2412.1 399.4,2425.5 383.1,2433.3 379.6,2422.4" fill="#ef4d34" />
<ellipse cx="569.1" cy="2420.6" rx="40.6" ry="40.6" fill="#e1e1e1"/>
<polyline points="593.1,2393.1 603.0,2407.2 607.9,2422.4" fill="none" stroke="#e0a87c" stroke-width="2.82" stroke-linecap="round" stroke-linejoin="round"/>
<polyline points="592.4,2430.5 600.9,2443.5 610.1,2454.5" fill="none" stroke="#e0a87c" stroke-width="3.88" stroke-linecap="round" stroke-linejoin="round"/>
<polygon points="606.5,2453.1 612.9,2450.2 614.3,2454.5 609.4,2460.1" fill="#ef4d34" />
<polygon points="579.7,2367.6 587.5,2364.8 593.8,2368.4 597.4,2378.9 600.9,2386.7 594.5,2386.0 589.6,2380.4 583.2,2380.4" fill="#6a4530" />
<ellipse cx="583.2" cy="2376.8" rx="3.2" ry="5.3" fill="#f2c9a4"/>
<polyline points="585.4,2383.2 586.8,2390.2" fill="none" stroke="#f2c9a4" stroke-width="3.53" stroke-linecap="round" stroke-linejoin="round"/>
<polyline points="580.4,2430.5 571.2,2443.9 567.0,2455.9" fill="none" stroke="#f2c9a4" stroke-width="3.88" stroke-linecap="round" stroke-linejoin="round"/>
<polygon points="559.9,2456.6 570.5,2455.2 571.2,2459.1 560.6,2459.4" fill="#ef4d34" />
<polygon points="581.1,2390.9 592.4,2388.8 595.9,2402.9 599.5,2431.9 574.1,2431.2 579.7,2410.7 579.0,2398.0" fill="#ef4d34" />
<polyline points="581.8,2394.5 567.0,2406.5 560.6,2408.6" fill="none" stroke="#f2c9a4" stroke-width="2.82" stroke-linecap="round" stroke-linejoin="round"/>
<polyline points="560.6,2408.6 527.5,2444.6" fill="none" stroke="#6b6b6b" stroke-width="0.78" stroke-linecap="round" stroke-linejoin="round"/>
<ellipse cx="536.6" cy="2450.9" rx="14.8" ry="3.9" fill="#2a3047" transform="rotate(4 536.6 2450.9)"/>
<ellipse cx="520.4" cy="2445.3" rx="4.6" ry="3.5" fill="#2a3047"/>
<polygon points="511.9,2443.2 518.3,2442.5 518.3,2446.7 513.4,2446.0" fill="#2a3047" />
<polygon points="519.7,2442.5 524.6,2442.5 523.9,2450.2 521.1,2449.5" fill="#1d2235" />
<polyline points="550.8,2449.5 553.6,2439.6" fill="none" stroke="#2a3047" stroke-width="1.76" stroke-linecap="round" stroke-linejoin="round"/>
<polyline points="526.1,2452.4 525.0,2458.0" fill="none" stroke="#2a3047" stroke-width="2.12" stroke-linecap="round" stroke-linejoin="round"/>
<polyline points="531.0,2452.4 529.9,2458.0" fill="none" stroke="#2a3047" stroke-width="2.12" stroke-linecap="round" stroke-linejoin="round"/>
<polyline points="543.7,2452.4 542.6,2458.0" fill="none" stroke="#2a3047" stroke-width="2.12" stroke-linecap="round" stroke-linejoin="round"/>
<polyline points="547.9,2452.4 546.9,2458.0" fill="none" stroke="#2a3047" stroke-width="2.12" stroke-linecap="round" stroke-linejoin="round"/>
<polyline points="526.1,2443.9 527.5,2448.8" fill="none" stroke="#e84a3a" stroke-width="1.41" stroke-linecap="round" stroke-linejoin="round"/></g>
<text x="58.2" y="2499.0" font-size="19" font-weight="normal" fill="#7c7c7c" textLength="46.5" lengthAdjust="spacing" >Yoga</text>
<text x="50.8" y="2522.5" font-size="19" font-weight="bold" fill="#555555" textLength="61.5" lengthAdjust="spacing" >51 min</text>
<text x="211.5" y="2499.0" font-size="19" font-weight="normal" fill="#7c7c7c" textLength="64.0" lengthAdjust="spacing" >Boxing</text>
<text x="212.8" y="2522.5" font-size="19" font-weight="bold" fill="#555555" textLength="61.5" lengthAdjust="spacing" >12 min</text>
<text x="336.5" y="2499.0" font-size="19" font-weight="normal" fill="#7c7c7c" textLength="139.0" lengthAdjust="spacing" >Climbing Stairs</text>
<text x="374.5" y="2522.5" font-size="19" font-weight="bold" fill="#555555" textLength="63.0" lengthAdjust="spacing" >34 min</text>
<text x="529.2" y="2499.0" font-size="19" font-weight="normal" fill="#7c7c7c" textLength="78.5" lengthAdjust="spacing" >Pet Care</text>
<text x="537.0" y="2522.5" font-size="19" font-weight="bold" fill="#555555" textLength="63.0" lengthAdjust="spacing" >65 min</text>
<circle cx="322.0" cy="2598.3" r="6.7" fill="#65ab8f" />
<circle cx="423.4" cy="2627.3" r="7.0" fill="#65ab8f" />
<path d="M-10.0,2592.0H303.4A7.2,7.2 0 0 1 303.4,2606.3H-10.0Z" fill="#65ab8f"/>
<path d="M-10.0,2606.0H373.3A7.2,7.2 0 0 1 373.3,2620.3H-10.0Z" fill="#65ab8f"/>
<path d="M-10.0,2620.0H403.8A6.8,6.8 0 0 1 403.8,2633.5H-10.0Z" fill="#65ab8f"/>
<rect x="-10.0" y="2599.2" width="313.4" height="14.0" fill="#65ab8f" />
<rect x="-10.0" y="2613.2" width="383.3" height="13.6" fill="#65ab8f" />
<circle cx="33.6" cy="2626.8" r="6.7" fill="#76bea1" />
<circle cx="352.5" cy="2626.8" r="6.7" fill="#76bea1" />
<rect x="45.5" y="2620.0" width="294.5" height="13.7" rx="6.8" fill="#76bea1"/>
<rect x="76.6" y="2633.5" width="232.4" height="12.5" rx="6.2" fill="#76bea1"/>
<rect x="82.8" y="2626.8" width="219.9" height="12.9" fill="#76bea1" />
<text x="401.8" y="2607.2" font-size="42.8" font-weight="bold" fill="#4fa57e" textLength="219.0" lengthAdjust="spacingAndGlyphs" >VITAMINS</text>
<text x="442.0" y="2633.2" font-size="19" font-weight="normal" fill="#62b08f" stroke="#ffffff" stroke-width="0.5" style="paint-order:fill stroke" textLength="177.6" lengthAdjust="spacingAndGlyphs" >(% OF DAILY VALUE)</text>
<path d="M71,2693.7 H605.6" stroke="#e4e4e4" stroke-width="1"/>
<text x="62.8" y="2701.7" font-size="22.5" font-weight="normal" fill="#8a8a8a" stroke="#ffffff" stroke-width="0.5" style="paint-order:fill stroke" text-anchor="end" letter-spacing="-0.6" >100</text>
<path d="M71,2729.0 H605.6" stroke="#e4e4e4" stroke-width="1"/>
<text x="62.8" y="2737.0" font-size="22.5" font-weight="normal" fill="#8a8a8a" stroke="#ffffff" stroke-width="0.5" style="paint-order:fill stroke" text-anchor="end" letter-spacing="-0.6" >80</text>
<path d="M71,2764.3 H605.6" stroke="#e4e4e4" stroke-width="1"/>
<text x="62.8" y="2772.3" font-size="22.5" font-weight="normal" fill="#8a8a8a" stroke="#ffffff" stroke-width="0.5" style="paint-order:fill stroke" text-anchor="end" letter-spacing="-0.6" >60</text>
<path d="M71,2799.7 H605.6" stroke="#e4e4e4" stroke-width="1"/>
<text x="62.8" y="2807.7" font-size="22.5" font-weight="normal" fill="#8a8a8a" stroke="#ffffff" stroke-width="0.5" style="paint-order:fill stroke" text-anchor="end" letter-spacing="-0.6" >40</text>
<path d="M71,2835.0 H605.6" stroke="#e4e4e4" stroke-width="1"/>
<text x="62.8" y="2843.0" font-size="22.5" font-weight="normal" fill="#8a8a8a" stroke="#ffffff" stroke-width="0.5" style="paint-order:fill stroke" text-anchor="end" letter-spacing="-0.6" >20</text>
<path d="M71,2870.3 H605.6" stroke="#cfcfcf" stroke-width="1"/>
<text x="62.8" y="2878.3" font-size="22.5" font-weight="normal" fill="#8a8a8a" stroke="#ffffff" stroke-width="0.5" style="paint-order:fill stroke" text-anchor="end" letter-spacing="-0.6" >0</text>
<path d="M71.5,2693.7 V2870.3" stroke="#cfcfcf" stroke-width="1"/>
<rect x="85.3" y="2854.4" width="16.0" height="15.9" fill="#6db890" />
<text x="93.3" y="2844.6" font-size="20.5" font-weight="normal" fill="#74bc97" stroke="#ffffff" stroke-width="0.4" style="paint-order:fill stroke" text-anchor="middle" >9</text>
<text x="93.3" y="2897.0" font-size="20.5" font-weight="normal" fill="#7a7a7a" stroke="#ffffff" stroke-width="0.4" style="paint-order:fill stroke" text-anchor="middle" >A</text>
<rect x="129.8" y="2865.0" width="16.0" height="5.3" fill="#6db890" />
<text x="137.8" y="2855.2" font-size="20.5" font-weight="normal" fill="#74bc97" stroke="#ffffff" stroke-width="0.4" style="paint-order:fill stroke" text-anchor="middle" >3</text>
<text x="137.8" y="2897.0" font-size="20.5" font-weight="normal" fill="#7a7a7a" stroke="#ffffff" stroke-width="0.4" style="paint-order:fill stroke" text-anchor="middle" >B1</text>
<rect x="174.3" y="2857.9" width="16.0" height="12.4" fill="#6db890" />
<text x="182.3" y="2848.1" font-size="20.5" font-weight="normal" fill="#74bc97" stroke="#ffffff" stroke-width="0.4" style="paint-order:fill stroke" text-anchor="middle" >7</text>
<text x="182.3" y="2897.0" font-size="20.5" font-weight="normal" fill="#7a7a7a" stroke="#ffffff" stroke-width="0.4" style="paint-order:fill stroke" text-anchor="middle" >B2</text>
<rect x="218.8" y="2852.6" width="16.0" height="17.7" fill="#6db890" />
<text x="226.8" y="2842.8" font-size="20.5" font-weight="normal" fill="#74bc97" stroke="#ffffff" stroke-width="0.4" style="paint-order:fill stroke" text-anchor="middle" >10</text>
<text x="226.8" y="2897.0" font-size="20.5" font-weight="normal" fill="#7a7a7a" stroke="#ffffff" stroke-width="0.4" style="paint-order:fill stroke" text-anchor="middle" >B3</text>
<rect x="263.3" y="2865.0" width="16.0" height="5.3" fill="#6db890" />
<text x="271.3" y="2855.2" font-size="20.5" font-weight="normal" fill="#74bc97" stroke="#ffffff" stroke-width="0.4" style="paint-order:fill stroke" text-anchor="middle" >3</text>
<text x="271.3" y="2897.0" font-size="20.5" font-weight="normal" fill="#7a7a7a" stroke="#ffffff" stroke-width="0.4" style="paint-order:fill stroke" text-anchor="middle" >B5</text>
<rect x="307.8" y="2849.1" width="16.0" height="21.2" fill="#6db890" />
<text x="315.8" y="2839.3" font-size="20.5" font-weight="normal" fill="#74bc97" stroke="#ffffff" stroke-width="0.4" style="paint-order:fill stroke" text-anchor="middle" >12</text>
<text x="315.8" y="2897.0" font-size="20.5" font-weight="normal" fill="#7a7a7a" stroke="#ffffff" stroke-width="0.4" style="paint-order:fill stroke" text-anchor="middle" >B6</text>
<rect x="352.2" y="2845.6" width="16.0" height="24.7" fill="#6db890" />
<text x="360.2" y="2835.8" font-size="20.5" font-weight="normal" fill="#74bc97" stroke="#ffffff" stroke-width="0.4" style="paint-order:fill stroke" text-anchor="middle" >14</text>
<text x="360.2" y="2897.0" font-size="20.5" font-weight="normal" fill="#7a7a7a" stroke="#ffffff" stroke-width="0.4" style="paint-order:fill stroke" text-anchor="middle" >B9</text>
<rect x="396.7" y="2865.0" width="16.0" height="5.3" fill="#6db890" />
<text x="404.7" y="2855.2" font-size="20.5" font-weight="normal" fill="#74bc97" stroke="#ffffff" stroke-width="0.4" style="paint-order:fill stroke" text-anchor="middle" >3</text>
<text x="404.7" y="2897.0" font-size="20.5" font-weight="normal" fill="#7a7a7a" stroke="#ffffff" stroke-width="0.4" style="paint-order:fill stroke" text-anchor="middle" >B12</text>
<rect x="441.2" y="2852.6" width="16.0" height="17.7" fill="#6db890" />
<text x="449.2" y="2842.8" font-size="20.5" font-weight="normal" fill="#74bc97" stroke="#ffffff" stroke-width="0.4" style="paint-order:fill stroke" text-anchor="middle" >10</text>
<text x="449.2" y="2897.0" font-size="20.5" font-weight="normal" fill="#7a7a7a" stroke="#ffffff" stroke-width="0.4" style="paint-order:fill stroke" text-anchor="middle" >C</text>
<rect x="485.7" y="2869.1" width="16.0" height="1.2" fill="#6db890" />
<text x="493.7" y="2859.3" font-size="20.5" font-weight="normal" fill="#74bc97" stroke="#ffffff" stroke-width="0.4" style="paint-order:fill stroke" text-anchor="middle" >0</text>
<text x="493.7" y="2897.0" font-size="20.5" font-weight="normal" fill="#7a7a7a" stroke="#ffffff" stroke-width="0.4" style="paint-order:fill stroke" text-anchor="middle" >D</text>
<rect x="530.2" y="2866.8" width="16.0" height="3.5" fill="#6db890" />
<text x="538.2" y="2857.0" font-size="20.5" font-weight="normal" fill="#74bc97" stroke="#ffffff" stroke-width="0.4" style="paint-order:fill stroke" text-anchor="middle" >2</text>
<text x="538.2" y="2897.0" font-size="20.5" font-weight="normal" fill="#7a7a7a" stroke="#ffffff" stroke-width="0.4" style="paint-order:fill stroke" text-anchor="middle" >E</text>
<rect x="574.7" y="2865.0" width="16.0" height="5.3" fill="#6db890" />
<text x="582.7" y="2855.2" font-size="20.5" font-weight="normal" fill="#74bc97" stroke="#ffffff" stroke-width="0.4" style="paint-order:fill stroke" text-anchor="middle" >3</text>
<text x="582.7" y="2897.0" font-size="20.5" font-weight="normal" fill="#7a7a7a" stroke="#ffffff" stroke-width="0.4" style="paint-order:fill stroke" text-anchor="middle" >K</text>
<text x="31.6" y="2990.3" font-size="42.8" font-weight="bold" fill="#7a5fdf" textLength="223.7" lengthAdjust="spacingAndGlyphs" >MINERALS</text>
<text x="30.6" y="3016.6" font-size="19" font-weight="normal" fill="#8068e2" stroke="#ffffff" stroke-width="0.5" style="paint-order:fill stroke" textLength="177.6" lengthAdjust="spacingAndGlyphs" >(% OF DAILY VALUE)</text>
<circle cx="230.5" cy="3010.7" r="6.7" fill="#9b5df8" />
<circle cx="331.5" cy="2982.3" r="6.7" fill="#9b5df8" />
<path d="M349.0,2975.5H660.0V2989.8H349.0A7.2,7.2 0 0 1 349.0,2975.5Z" fill="#9b5df8"/>
<path d="M279.4,2989.5H660.0V3004.3H279.4A7.4,7.4 0 0 1 279.4,2989.5Z" fill="#9b5df8"/>
<path d="M250.8,3004.0H660.0V3018.5H250.8A7.2,7.2 0 0 1 250.8,3004.0Z" fill="#9b5df8"/>
<rect x="349.0" y="2982.7" width="311.0" height="14.2" fill="#9b5df8" />
<rect x="279.4" y="2996.9" width="380.6" height="14.3" fill="#9b5df8" />
<circle cx="320.0" cy="3004.0" r="6.7" fill="#c4a2fb" />
<rect x="362.5" y="2983.0" width="193.3" height="14.3" rx="7.2" fill="#c4a2fb"/>
<rect x="333.0" y="2997.0" width="252.0" height="14.8" rx="7.4" fill="#c4a2fb"/>
<rect x="369.7" y="2990.2" width="179.0" height="14.2" fill="#c4a2fb" />
<circle cx="598.0" cy="3004.0" r="7.0" fill="#c4a2fb" />
<path d="M71,3076.8 H605.6" stroke="#e4e4e4" stroke-width="1"/>
<text x="62.8" y="3084.8" font-size="22.5" font-weight="normal" fill="#8a8a8a" stroke="#ffffff" stroke-width="0.5" style="paint-order:fill stroke" text-anchor="end" letter-spacing="-0.6" >100</text>
<path d="M71,3112.1 H605.6" stroke="#e4e4e4" stroke-width="1"/>
<text x="62.8" y="3120.1" font-size="22.5" font-weight="normal" fill="#8a8a8a" stroke="#ffffff" stroke-width="0.5" style="paint-order:fill stroke" text-anchor="end" letter-spacing="-0.6" >80</text>
<path d="M71,3147.4 H605.6" stroke="#e4e4e4" stroke-width="1"/>
<text x="62.8" y="3155.4" font-size="22.5" font-weight="normal" fill="#8a8a8a" stroke="#ffffff" stroke-width="0.5" style="paint-order:fill stroke" text-anchor="end" letter-spacing="-0.6" >60</text>
<path d="M71,3182.8 H605.6" stroke="#e4e4e4" stroke-width="1"/>
<text x="62.8" y="3190.8" font-size="22.5" font-weight="normal" fill="#8a8a8a" stroke="#ffffff" stroke-width="0.5" style="paint-order:fill stroke" text-anchor="end" letter-spacing="-0.6" >40</text>
<path d="M71,3218.1 H605.6" stroke="#e4e4e4" stroke-width="1"/>
<text x="62.8" y="3226.1" font-size="22.5" font-weight="normal" fill="#8a8a8a" stroke="#ffffff" stroke-width="0.5" style="paint-order:fill stroke" text-anchor="end" letter-spacing="-0.6" >20</text>
<path d="M71,3253.4 H605.6" stroke="#cfcfcf" stroke-width="1"/>
<text x="62.8" y="3261.4" font-size="22.5" font-weight="normal" fill="#8a8a8a" stroke="#ffffff" stroke-width="0.5" style="paint-order:fill stroke" text-anchor="end" letter-spacing="-0.6" >0</text>
<path d="M71.5,3076.8 V3253.4" stroke="#cfcfcf" stroke-width="1"/>
<rect x="93.7" y="3252.2" width="16.0" height="1.2" fill="#7b68e6" />
<text x="101.7" y="3242.4" font-size="20.5" font-weight="normal" fill="#8574e8" stroke="#ffffff" stroke-width="0.4" style="paint-order:fill stroke" text-anchor="middle" >0</text>
<text x="101.7" y="3279.4" font-size="20.5" font-weight="normal" fill="#7a7a7a" stroke="#ffffff" stroke-width="0.4" style="paint-order:fill stroke" text-anchor="middle" >Ca</text>
<rect x="152.9" y="3248.1" width="16.0" height="5.3" fill="#7b68e6" />
<text x="160.9" y="3238.3" font-size="20.5" font-weight="normal" fill="#8574e8" stroke="#ffffff" stroke-width="0.4" style="paint-order:fill stroke" text-anchor="middle" >3</text>
<text x="160.9" y="3279.4" font-size="20.5" font-weight="normal" fill="#7a7a7a" stroke="#ffffff" stroke-width="0.4" style="paint-order:fill stroke" text-anchor="middle" >Cu</text>
<rect x="212.0" y="3244.6" width="16.0" height="8.8" fill="#7b68e6" />
<text x="220.0" y="3234.8" font-size="20.5" font-weight="normal" fill="#8574e8" stroke="#ffffff" stroke-width="0.4" style="paint-order:fill stroke" text-anchor="middle" >5</text>
<text x="220.0" y="3279.4" font-size="20.5" font-weight="normal" fill="#7a7a7a" stroke="#ffffff" stroke-width="0.4" style="paint-order:fill stroke" text-anchor="middle" >Fe</text>
<rect x="271.2" y="3235.7" width="16.0" height="17.7" fill="#7b68e6" />
<text x="279.2" y="3225.9" font-size="20.5" font-weight="normal" fill="#8574e8" stroke="#ffffff" stroke-width="0.4" style="paint-order:fill stroke" text-anchor="middle" >10</text>
<text x="279.2" y="3279.4" font-size="20.5" font-weight="normal" fill="#7a7a7a" stroke="#ffffff" stroke-width="0.4" style="paint-order:fill stroke" text-anchor="middle" >K</text>
<rect x="330.4" y="3232.2" width="16.0" height="21.2" fill="#7b68e6" />
<text x="338.4" y="3222.4" font-size="20.5" font-weight="normal" fill="#8574e8" stroke="#ffffff" stroke-width="0.4" style="paint-order:fill stroke" text-anchor="middle" >12</text>
<text x="338.4" y="3279.4" font-size="20.5" font-weight="normal" fill="#7a7a7a" stroke="#ffffff" stroke-width="0.4" style="paint-order:fill stroke" text-anchor="middle" >Mg</text>
<rect x="389.5" y="3232.2" width="16.0" height="21.2" fill="#7b68e6" />
<text x="397.5" y="3222.4" font-size="20.5" font-weight="normal" fill="#8574e8" stroke="#ffffff" stroke-width="0.4" style="paint-order:fill stroke" text-anchor="middle" >12</text>
<text x="397.5" y="3279.4" font-size="20.5" font-weight="normal" fill="#7a7a7a" stroke="#ffffff" stroke-width="0.4" style="paint-order:fill stroke" text-anchor="middle" >Mn</text>
<rect x="448.7" y="3228.7" width="16.0" height="24.7" fill="#7b68e6" />
<text x="456.7" y="3218.9" font-size="20.5" font-weight="normal" fill="#8574e8" stroke="#ffffff" stroke-width="0.4" style="paint-order:fill stroke" text-anchor="middle" >14</text>
<text x="456.7" y="3279.4" font-size="20.5" font-weight="normal" fill="#7a7a7a" stroke="#ffffff" stroke-width="0.4" style="paint-order:fill stroke" text-anchor="middle" >P</text>
<rect x="507.8" y="3249.9" width="16.0" height="3.5" fill="#7b68e6" />
<text x="515.8" y="3240.1" font-size="20.5" font-weight="normal" fill="#8574e8" stroke="#ffffff" stroke-width="0.4" style="paint-order:fill stroke" text-anchor="middle" >2</text>
<text x="515.8" y="3279.4" font-size="20.5" font-weight="normal" fill="#7a7a7a" stroke="#ffffff" stroke-width="0.4" style="paint-order:fill stroke" text-anchor="middle" >Se</text>
<rect x="567.0" y="3241.0" width="16.0" height="12.4" fill="#7b68e6" />
<text x="575.0" y="3231.2" font-size="20.5" font-weight="normal" fill="#8574e8" stroke="#ffffff" stroke-width="0.4" style="paint-order:fill stroke" text-anchor="middle" >7</text>
<text x="575.0" y="3279.4" font-size="20.5" font-weight="normal" fill="#7a7a7a" stroke="#ffffff" stroke-width="0.4" style="paint-order:fill stroke" text-anchor="middle" >Zn</text>
<circle cx="290.8" cy="3348.3" r="6.6" fill="#efc469" />
<circle cx="190.0" cy="3376.8" r="6.8" fill="#efc469" />
<path d="M-10.0,3342.0H272.2A7.2,7.2 0 0 1 272.2,3356.3H-10.0Z" fill="#efc469"/>
<path d="M-10.0,3356.0H242.2A7.2,7.2 0 0 1 242.2,3370.3H-10.0Z" fill="#efc469"/>
<path d="M-10.0,3370.0H171.8A6.8,6.8 0 0 1 171.8,3383.5H-10.0Z" fill="#efc469"/>
<rect x="-10.0" y="3349.2" width="252.2" height="14.0" fill="#efc469" />
<rect x="-10.0" y="3363.2" width="181.8" height="13.6" fill="#efc469" />
<circle cx="201.9" cy="3363.8" r="6.7" fill="#fbd686" />
<path d="M-10.0,3356.0H178.5A7.8,7.8 0 0 1 178.5,3371.6H-10.0Z" fill="#fbd686"/>
<path d="M-10.0,3371.0H151.7A6.2,6.2 0 0 1 151.7,3383.5H-10.0Z" fill="#fbd686"/>
<rect x="-10.0" y="3363.8" width="161.7" height="13.4" fill="#fbd686" />
<text x="316.2" y="3370.0" font-size="42.7" font-weight="bold" fill="#eebc5e" textLength="305.0" lengthAdjust="spacingAndGlyphs" >AMINO ACIDS</text>
<text x="257.8" y="3396.8" font-size="19.8" font-weight="normal" fill="#efc46e" stroke="#ffffff" stroke-width="0.5" style="paint-order:fill stroke" textLength="362.0" lengthAdjust="spacingAndGlyphs" >THESE ARE ESSENTIAL FOR YOUR BODY</text>
<rect x="525.0" y="3582.6" width="140.0" height="13.4" rx="6.7" fill="#f5f5f5"/>
<circle cx="535.6" cy="3614.0" r="6.0" fill="#f5f5f5" />
<rect x="547.0" y="3607.0" width="118.0" height="13.0" rx="6.5" fill="#f5f5f5"/>
<rect x="583.0" y="3595.0" width="40.0" height="13.0" fill="#f5f5f5" />
<rect x="540.0" y="3596.0" width="47.0" height="11.0" rx="5.5" fill="#ffffff"/>
<rect x="619.0" y="3596.0" width="46.0" height="11.0" rx="5.5" fill="#ffffff"/>
<circle cx="104.6" cy="3441.1" r="11.0" fill="#fad78f" />
<circle cx="49.6" cy="3484.1" r="6.5" fill="#fad78f" />
<circle cx="78.6" cy="3464.1" r="33.2" fill="#efc572" />
<text x="59.3" y="3465.7" font-size="19.5" font-weight="bold" fill="#ffffff" textLength="38.5" lengthAdjust="spacing" >0.11</text>
<text x="78.6" y="3480.5" font-size="14.5" font-weight="normal" fill="#ffffff" text-anchor="middle" >g</text>
<text x="38.4" y="3525.7" font-size="20.5" font-weight="normal" fill="#5e5e5e" stroke="#ffffff" stroke-width="0.5" style="paint-order:fill stroke" textLength="80.4" lengthAdjust="spacing" >Histidine</text>
<circle cx="176.8" cy="3438.1" r="7.0" fill="#fad78f" />
<circle cx="230.3" cy="3485.1" r="11.0" fill="#fad78f" />
<circle cx="202.8" cy="3464.1" r="33.2" fill="#efc572" />
<text x="183.6" y="3465.7" font-size="19.5" font-weight="bold" fill="#ffffff" textLength="38.5" lengthAdjust="spacing" >0.23</text>
<text x="202.8" y="3480.5" font-size="14.5" font-weight="normal" fill="#ffffff" text-anchor="middle" >g</text>
<text x="154.0" y="3525.7" font-size="20.5" font-weight="normal" fill="#5e5e5e" stroke="#ffffff" stroke-width="0.5" style="paint-order:fill stroke" textLength="94.7" lengthAdjust="spacing" >Isoleucine</text>
<circle cx="300.4" cy="3438.1" r="7.0" fill="#fad78f" />
<circle cx="354.9" cy="3442.6" r="11.0" fill="#fad78f" />
<circle cx="299.1" cy="3483.1" r="6.0" fill="#fad78f" />
<circle cx="328.1" cy="3464.1" r="33.2" fill="#efc572" />
<text x="308.9" y="3465.7" font-size="19.5" font-weight="bold" fill="#ffffff" textLength="38.5" lengthAdjust="spacing" >0.41</text>
<text x="328.1" y="3480.5" font-size="14.5" font-weight="normal" fill="#ffffff" text-anchor="middle" >g</text>
<text x="288.0" y="3525.7" font-size="20.5" font-weight="normal" fill="#5e5e5e" stroke="#ffffff" stroke-width="0.5" style="paint-order:fill stroke" textLength="74.5" lengthAdjust="spacing" >Leucine</text>
<circle cx="479.0" cy="3441.1" r="11.0" fill="#fad78f" />
<circle cx="424.0" cy="3484.1" r="6.5" fill="#fad78f" />
<circle cx="453.0" cy="3464.1" r="33.2" fill="#efc572" />
<text x="433.8" y="3465.7" font-size="19.5" font-weight="bold" fill="#ffffff" textLength="38.5" lengthAdjust="spacing" >0.25</text>
<text x="453.0" y="3480.5" font-size="14.5" font-weight="normal" fill="#ffffff" text-anchor="middle" >g</text>
<text x="420.5" y="3525.7" font-size="20.5" font-weight="normal" fill="#5e5e5e" stroke="#ffffff" stroke-width="0.5" style="paint-order:fill stroke" textLength="59.0" lengthAdjust="spacing" >Lysine</text>
<circle cx="551.7" cy="3440.1" r="8.0" fill="#fad78f" />
<circle cx="549.7" cy="3483.1" r="6.0" fill="#fad78f" />
<circle cx="578.7" cy="3464.1" r="33.2" fill="#efc572" />
<text x="559.5" y="3465.7" font-size="19.5" font-weight="bold" fill="#ffffff" textLength="38.5" lengthAdjust="spacing" >0.11</text>
<text x="578.7" y="3480.5" font-size="14.5" font-weight="normal" fill="#ffffff" text-anchor="middle" >g</text>
<text x="521.5" y="3525.7" font-size="20.5" font-weight="normal" fill="#5e5e5e" stroke="#ffffff" stroke-width="0.5" style="paint-order:fill stroke" textLength="104.0" lengthAdjust="spacing" >Methionine</text>
<circle cx="104.6" cy="3571.0" r="11.0" fill="#fad78f" />
<circle cx="49.6" cy="3614.0" r="6.5" fill="#fad78f" />
<circle cx="78.6" cy="3594.0" r="33.2" fill="#efc572" />
<text x="59.3" y="3595.6" font-size="19.5" font-weight="bold" fill="#ffffff" textLength="38.5" lengthAdjust="spacing" >0.22</text>
<text x="78.6" y="3610.4" font-size="14.5" font-weight="normal" fill="#ffffff" text-anchor="middle" >g</text>
<text x="12.5" y="3655.6" font-size="20.5" font-weight="normal" fill="#5e5e5e" stroke="#ffffff" stroke-width="0.5" style="paint-order:fill stroke" textLength="130.0" lengthAdjust="spacing" >Phenylalanine</text>
<circle cx="176.8" cy="3568.0" r="7.0" fill="#fad78f" />
<circle cx="230.3" cy="3615.0" r="11.0" fill="#fad78f" />
<circle cx="202.8" cy="3594.0" r="33.2" fill="#efc572" />
<text x="183.6" y="3595.6" font-size="19.5" font-weight="bold" fill="#ffffff" textLength="38.5" lengthAdjust="spacing" >0.19</text>
<text x="202.8" y="3610.4" font-size="14.5" font-weight="normal" fill="#ffffff" text-anchor="middle" >g</text>
<text x="153.5" y="3655.6" font-size="20.5" font-weight="normal" fill="#5e5e5e" stroke="#ffffff" stroke-width="0.5" style="paint-order:fill stroke" textLength="95.0" lengthAdjust="spacing" >Threonine</text>
<circle cx="302.1" cy="3568.0" r="7.0" fill="#fad78f" />
<circle cx="355.6" cy="3615.0" r="11.0" fill="#fad78f" />
<circle cx="328.1" cy="3594.0" r="33.2" fill="#efc572" />
<text x="308.9" y="3595.6" font-size="19.5" font-weight="bold" fill="#ffffff" textLength="38.5" lengthAdjust="spacing" >0.05</text>
<text x="328.1" y="3610.4" font-size="14.5" font-weight="normal" fill="#ffffff" text-anchor="middle" >g</text>
<text x="274.5" y="3655.6" font-size="20.5" font-weight="normal" fill="#5e5e5e" stroke="#ffffff" stroke-width="0.5" style="paint-order:fill stroke" textLength="103.0" lengthAdjust="spacing" >Tryptophan</text>
<circle cx="479.0" cy="3571.0" r="11.0" fill="#fad78f" />
<circle cx="424.0" cy="3614.0" r="6.5" fill="#fad78f" />
<circle cx="453.0" cy="3594.0" r="33.2" fill="#efc572" />
<text x="433.8" y="3595.6" font-size="19.5" font-weight="bold" fill="#ffffff" textLength="38.5" lengthAdjust="spacing" >0.27</text>
<text x="453.0" y="3610.4" font-size="14.5" font-weight="normal" fill="#ffffff" text-anchor="middle" >g</text>
<text x="420.5" y="3655.6" font-size="20.5" font-weight="normal" fill="#5e5e5e" stroke="#ffffff" stroke-width="0.5" style="paint-order:fill stroke" textLength="55.5" lengthAdjust="spacing" >Valine</text>
<path d="M0,3695 C20,3696 40,3698 60,3701 L60,3715 L0,3715 Z" fill="#e4aca2"/>
<path d="M245,3699 C280,3696 330,3693.5 371,3694.5 C410,3695.5 440,3699 470,3703 L470,3715 L245,3715 Z" fill="#e4aca2"/>
<path d="M0,3706 C50,3700 105,3693 153,3693 C190,3693 220,3695 252,3697.5 C280,3700 300,3701.5 325,3703 C350,3705 370,3706 386,3706 C415,3706 440,3704 466,3702 C500,3699 535,3695 570,3695 C600,3695 630,3698 650,3700.6 L650,3944 L0,3944 Z" fill="#bd8478"/>
<g fill="none" stroke="#fff" stroke-width="2.3" stroke-linecap="round" stroke-linejoin="round"><path d="M271,3756.8 C265,3751.5 256.5,3746 256.5,3737.5 C256.5,3731.5 260,3727.5 264.5,3727.5 C268.5,3727.5 271,3730 272.3,3734 C273.5,3730.5 276,3728.5 279.5,3728.2"/><path d="M271,3756.8 C278,3751.5 287,3745 289.5,3737.5"/></g>
<path d="M277.5,3734.8 C278,3727 284,3722.8 294.5,3723.6 C294,3731 288,3736.8 277.5,3734.8 Z" fill="#fff"/>
<text x="305.0" y="3755.0" font-size="33.5" font-weight="normal" fill="#ffffff" stroke="#bd8478" stroke-width="0.9" style="paint-order:fill stroke" textLength="89.0" lengthAdjust="spacing" >inlivo</text>
<text x="210.2" y="3779.8" font-size="17" font-weight="normal" fill="#ffffff" textLength="229.5" lengthAdjust="spacingAndGlyphs" >Nutrition Tracker &amp; Health Coach</text>
<text x="254.5" y="3797.5" font-size="17" font-weight="normal" fill="#ffffff" textLength="142.0" lengthAdjust="spacing" >www.inlivo.com</text>
<path d="M254,3801.8 H397.5" stroke="#fff" stroke-width="0.9"/>
<text x="92.0" y="3828.3" font-size="14.5" font-weight="normal" fill="#ffffff" textLength="466.0" lengthAdjust="spacingAndGlyphs" >Nothing contained in this presentation and our services is intended or implied</text>
<text x="183.5" y="3846.0" font-size="14.5" font-weight="normal" fill="#ffffff" textLength="283.0" lengthAdjust="spacingAndGlyphs" >to be a medical advice, diagnosis or treatment.</text>
<g fill="#f6e6e2"><path d="M293.2,3881 V3865.5 a3,3 0 0 1 3,-3 H344.7 a3,3 0 0 1 3,3 V3871 H344.9 V3866 a0.7,0.7 0 0 0 -0.7,-0.7 H296.7 a0.7,0.7 0 0 0 -0.7,0.7 V3881 Z"/><path d="M304.5,3891.4 H335.5 V3896.5 a1.5,1.5 0 0 1 -1.5,1.5 H304.5 Z"/><path d="M316,3898 H327.6 L330.5,3904.4 H313 Z"/><path fill-rule="evenodd" d="M290.2,3882.4 H300.3 a2,2 0 0 1 2,2 V3904.3 a2,2 0 0 1 -2,2 H290.2 a2,2 0 0 1 -2,-2 V3884.4 a2,2 0 0 1 2,-2 Z M290.5,3886.5 V3900.8 H300 V3886.5 Z"/><path fill-rule="evenodd" d="M340.3,3872.5 H359.3 a2.5,2.5 0 0 1 2.5,2.5 V3903 a2.5,2.5 0 0 1 -2.5,2.5 H340.3 a2.5,2.5 0 0 1 -2.5,-2.5 V3875 a2.5,2.5 0 0 1 2.5,-2.5 Z M340.6,3876 V3898 H359 V3876 Z"/></g>
<circle cx="320" cy="3894.6" r="1" fill="#bd8478"/><circle cx="345.5" cy="3901.6" r="0.9" fill="#bd8478"/><circle cx="349.8" cy="3901.6" r="0.9" fill="#bd8478"/><circle cx="354" cy="3901.6" r="0.9" fill="#bd8478"/>
<text x="162.0" y="3923.6" font-size="14.2" font-weight="bold" fill="#ecd0c9" textLength="326.0" lengthAdjust="spacingAndGlyphs" >Available on your desktop, tablet and mobile phone</text>
</svg>
</body></html>
